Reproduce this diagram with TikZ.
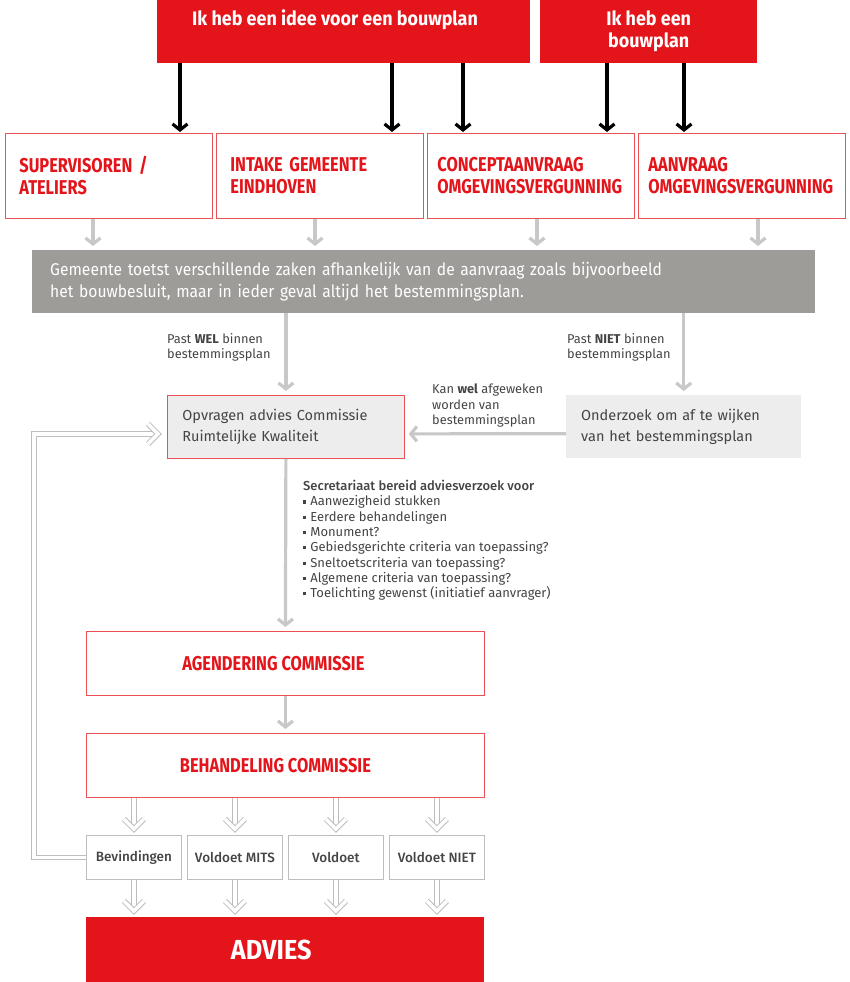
\documentclass[tikz,border=0pt]{standalone}
\usepackage{fontspec}
\setmainfont{Fira Sans}
\newfontfamily\smalfont[FakeStretch=0.82]{Fira Sans}
\newfontfamily\breedfont[FakeStretch=0.92]{Fira Sans}
\IfFontExistsTF{Fira Sans Medium}
  {\newfontfamily\halfvet{Fira Sans Medium}}
  {\newfontfamily\halfvet{Fira Sans}}
\usetikzlibrary{positioning,arrows.meta}

\definecolor{advrood}{HTML}{E3151B}
\definecolor{toetsgrijs}{HTML}{9E9C99}
\definecolor{lichtgrijs}{HTML}{EDEDED}
\definecolor{pijlgrijs}{HTML}{C8C8C8}
\definecolor{tekstgrijs}{HTML}{444444}
\definecolor{randgrijs}{HTML}{BDBDBD}

\newcommand\blokje{\raisebox{2.3pt}{\rule{3.2pt}{3.2pt}}\hspace{4pt}}

\tikzset{
  roodblok/.style={fill=advrood, anchor=north west, inner sep=0pt, text=white,
    font=\breedfont\bfseries\fontsize{19.5}{22}\selectfont, align=center},
  startbox/.style={draw=advrood!75, line width=0.8pt, fill=white, anchor=north west,
    minimum width=207pt, minimum height=85pt, text width=187pt, inner xsep=10pt,
    inner ysep=0pt, align=left, text=advrood, font=\smalfont\bfseries\fontsize{20}{22}\selectfont},
  stapbox/.style={draw=advrood!75, line width=0.8pt, fill=white, anchor=north west,
    minimum width=398pt, minimum height=64pt, inner sep=0pt},
  staptekst/.style={text=advrood, font=\smalfont\bfseries\fontsize{20}{22}\selectfont},
  grijsbox/.style={fill=lichtgrijs, anchor=north west, minimum height=63pt,
    inner xsep=15pt, inner ysep=0pt, align=left, text=tekstgrijs,
    font=\fontsize{14.5}{21}\selectfont},
  uitkomst/.style={draw=randgrijs, line width=0.8pt, anchor=north west,
    minimum width=95pt, minimum height=44pt, inner sep=0pt, text=tekstgrijs,
    font=\halfvet\fontsize{13.5}{15}\selectfont},
  uitleg/.style={anchor=north west, inner sep=0pt, align=left, text=tekstgrijs,
    font=\fontsize{12.8}{15.5}\selectfont},
  zwartepijl/.style={line width=3.2pt, -{Straight Barb[length=6pt,width=15pt]}, shorten >=1pt},
  grijspijl/.style={draw=pijlgrijs, line width=3.2pt, -{Straight Barb[length=6pt,width=15pt]}, shorten >=4pt},
  dubbellijn/.style={draw=randgrijs, double=white, line width=1pt, double distance=3.5pt,
    line join=miter},
}

\begin{document}
\begin{tikzpicture}[x=1pt, y=-1pt]
  \useasboundingbox (0,0) rectangle (850,982);

  % startpunten
  \node[roodblok, minimum width=373pt, minimum height=63pt] (idee) at (157,0) {};
  \node[text=white, font=\breedfont\bfseries\fontsize{19.5}{22}\selectfont] (ideetekst) at (335,20) {Ik heb een idee voor een bouwplan};
  \node[roodblok, minimum width=217pt, minimum height=63pt] (plan) at (540,0) {Ik heb een\\bouwplan};

  \node[startbox, inner xsep=14pt, text width=179pt] (super) at (5,133) {SUPERVISOREN /\\ATELIERS};
  \node[startbox, inner xsep=14pt, text width=179pt] (intake) at (216,133) {INTAKE GEMEENTE\\EINDHOVEN};
  \node[startbox] (concept) at (427,133) {CONCEPTAANVRAAG\\OMGEVINGSVERGUNNING};
  \node[startbox] (aanvraag) at (638,133) {AANVRAAG\\OMGEVINGSVERGUNNING};

  \foreach \x/\doel in {180/super, 392/intake, 463/concept}
    \draw[zwartepijl] (idee.south -| \x,0) -- (\doel.north -| \x,0);
  \foreach \x/\doel in {607/concept, 684/aanvraag}
    \draw[zwartepijl] (plan.south -| \x,0) -- (\doel.north -| \x,0);

  % toetsing
  \node[anchor=north west, fill=toetsgrijs, minimum width=783pt, minimum height=63pt,
    text width=747pt, inner xsep=18pt, inner ysep=0pt, align=left, text=white,
    font=\breedfont\fontsize{17}{22}\selectfont] (toets) at (32,250)
    {Gemeente toetst verschillende zaken afhankelijk van de aanvraag zoals bijvoorbeeld\\het bouwbesluit, maar in ieder geval altijd het bestemmingsplan.};

  \foreach \x/\van in {93/super, 315/intake, 537/concept, 758/aanvraag}
    \draw[grijspijl] (\van.south -| \x,0) -- (toets.north -| \x,0);

  \node[grijsbox, draw=advrood!75, line width=0.8pt, minimum width=237pt, text width=207pt] (opvragen) at (167,395)
    {Opvragen advies Commissie\\Ruimtelijke Kwaliteit};
  \node[grijsbox, minimum width=235pt, text width=205pt] (onderzoek) at (566,395)
    {Onderzoek om af te wijken\\van het bestemmingsplan};

  \draw[grijspijl] (toets.south -| opvragen.north) -- (opvragen.north);
  \draw[grijspijl] (toets.south -| onderzoek.north) -- (onderzoek.north);
  \draw[grijspijl] ([yshift=-7pt]onderzoek.west) -- ([yshift=-7pt]opvragen.east);

  \node[uitleg] (wel) at (167,333) {Past \textbf{WEL} binnen\\bestemmingsplan};
  \node[uitleg] (niet) at (567,333) {Past \textbf{NIET} binnen\\bestemmingsplan};
  \node[uitleg] (afwijken) at (432,384) {Kan \textbf{wel} afgeweken\\worden van\\bestemmingsplan};

  \node[uitleg, font=\fontsize{13}{15.3}\selectfont] (secretariaat) at (303,480)
    {{\halfvet Secretariaat bereid adviesverzoek voor}\\
     \blokje Aanwezigheid stukken\\
     \blokje Eerdere behandelingen\\
     \blokje Monument?\\
     \blokje Gebiedsgerichte criteria van toepassing?\\
     \blokje Sneltoetscriteria van toepassing?\\
     \blokje Algemene criteria van toepassing?\\
     \blokje Toelichting gewenst (initiatief aanvrager)};

  % commissie
  \node[stapbox, label={[staptekst, xshift=-12pt]center:AGENDERING COMMISSIE}] (agendering) at (86,631) {};
  \node[stapbox, label={[staptekst, xshift=-10pt]center:BEHANDELING COMMISSIE}] (behandeling) at (86,733) {};
  \draw[grijspijl] (opvragen.south) -- (agendering.north);
  \draw[grijspijl] (agendering.south) -- (behandeling.north);

  \node[uitkomst] (bevind) at (86,835) {Bevindingen};
  \node[uitkomst] (mits) at (187,835) {Voldoet MITS};
  \node[uitkomst] (voldoet) at (288,835) {Voldoet};
  \node[uitkomst] (voldoetniet) at (389,835) {Voldoet NIET};

  \node[roodblok, minimum width=398pt, minimum height=65pt,
    label={[text=white, font=\breedfont\bfseries\fontsize{27.5}{30}\selectfont, xshift=-14pt]center:ADVIES}] (advies) at (86,917) {};

  % dubbele pijlen met open kop
  \foreach \u in {bevind, mits, voldoet, voldoetniet} {
    \draw[dubbellijn] (behandeling.south -| \u.north) -- ([yshift=6pt]\u.north);
    \draw[dubbellijn] ([xshift=-10pt,yshift=16pt]\u.north) -- ([yshift=6pt]\u.north) -- ([xshift=10pt,yshift=16pt]\u.north);
    \draw[dubbellijn] (\u.south) -- ([yshift=6pt]advies.north -| \u.south);
    \draw[dubbellijn] ([xshift=-10pt,yshift=16pt]advies.north -| \u.south) -- ([yshift=6pt]advies.north -| \u.south)
      -- ([xshift=10pt,yshift=16pt]advies.north -| \u.south);
  }
  \draw[dubbellijn] (bevind.west) -- ++(-52,0) |- ([xshift=-9pt,yshift=-7pt]opvragen.west);
  \draw[dubbellijn] ([xshift=-19pt,yshift=3pt]opvragen.west) -- ([xshift=-9pt,yshift=-7pt]opvragen.west)
    -- ([xshift=-19pt,yshift=-17pt]opvragen.west);
\end{tikzpicture}
\end{document}
